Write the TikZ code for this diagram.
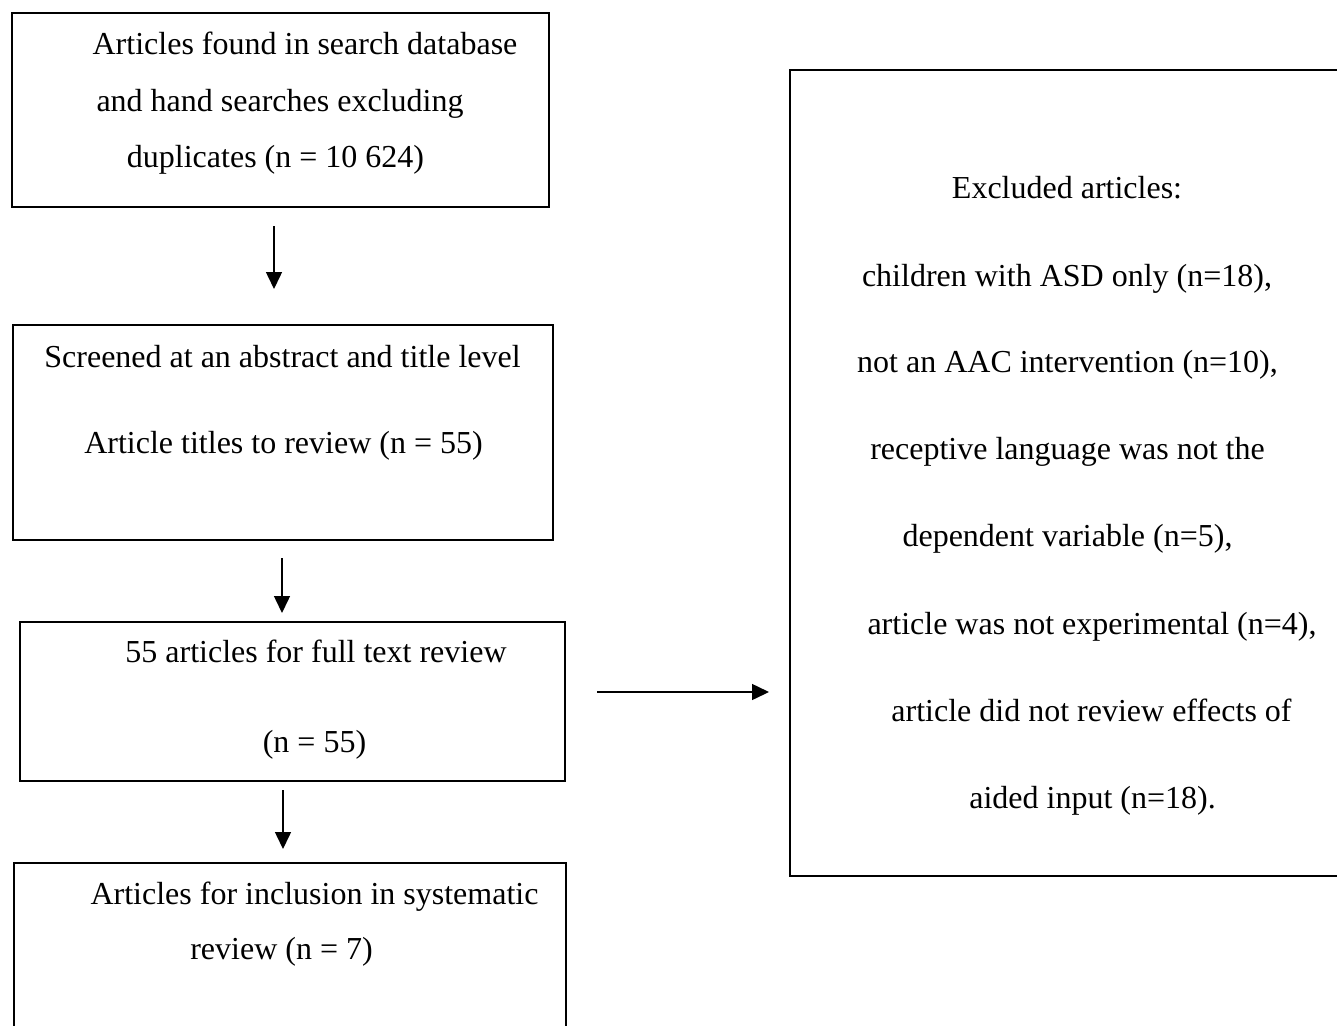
\documentclass[tikz,border=0pt]{standalone}
\usepackage{fontspec}
\setmainfont{Liberation Serif}
\usetikzlibrary{arrows.meta}
\tikzset{
  box/.style={draw=black, line width=1.2pt, inner sep=0pt, outer sep=0pt, anchor=north west, fill=none},
  txt/.style={inner sep=0pt, anchor=base, font=\fontsize{32}{38}\selectfont},
  arr/.style={draw=black, line width=1.5pt, -{Triangle[width=16pt,length=17pt]}}
}
\begin{document}
\begin{tikzpicture}[x=1pt,y=-1pt]
\useasboundingbox (0,0) rectangle (1337,1025);
% boxes
\node[box, minimum width=537pt, minimum height=194pt] (b1) at (12,13) {};
\node[box, minimum width=540pt, minimum height=215pt] (b2) at (13,325) {};
\node[box, minimum width=545pt, minimum height=159pt] (b3) at (20,622) {};
\node[box, minimum width=552pt, minimum height=200pt] (b4) at (14,863) {};
\node[box, minimum width=560pt, minimum height=806pt] (ex) at (790,70) {};
% texts
\node[txt] (t11) at (305,55) {Articles found in search database};
\node[txt] (t12) at (280,111) {and hand searches excluding};
\node[txt] (t13) at (275.5,167) {duplicates (n = 10 624)};
\node[txt] (t21) at (282.5,367) {Screened at an abstract and title level};
\node[txt] (t22) at (283.5,453) {Article titles to review (n = 55)};
\node[txt] (t31) at (316,662) {55 articles for full text review};
\node[txt] (t32) at (314.5,752) {(n = 55)};
\node[txt] (t41) at (314.5,904) {Articles for inclusion in systematic};
\node[txt] (t42) at (281.5,959) {review (n = 7)};
\node[txt] (e1) at (1067,198) {Excluded articles:};
\node[txt] (e2) at (1067,286) {children with ASD only (n=18),};
\node[txt] (e3) at (1067.5,372) {not an AAC intervention (n=10),};
\node[txt] (e4) at (1067.5,459) {receptive language was not the};
\node[txt] (e5) at (1067.5,546) {dependent variable (n=5),};
\node[txt] (e6) at (1092,634) {article was not experimental (n=4),};
\node[txt] (e7) at (1091.5,721) {article did not review effects of};
\node[txt] (e8) at (1092.5,808) {aided input (n=18).};
% arrow end points
\coordinate (a1s) at (274,226);
\coordinate (a1e) at (274,289);
\coordinate (a2s) at (282,558);
\coordinate (a2e) at (282,613);
\coordinate (a3s) at (283,790);
\coordinate (a3e) at (283,849);
\coordinate (a4s) at (597,692);
\coordinate (a4e) at (769,692);
\draw[arr] (a1s) -- (a1e);
\draw[arr] (a2s) -- (a2e);
\draw[arr] (a3s) -- (a3e);
\draw[arr] (a4s) -- (a4e);
\end{tikzpicture}
\end{document}
